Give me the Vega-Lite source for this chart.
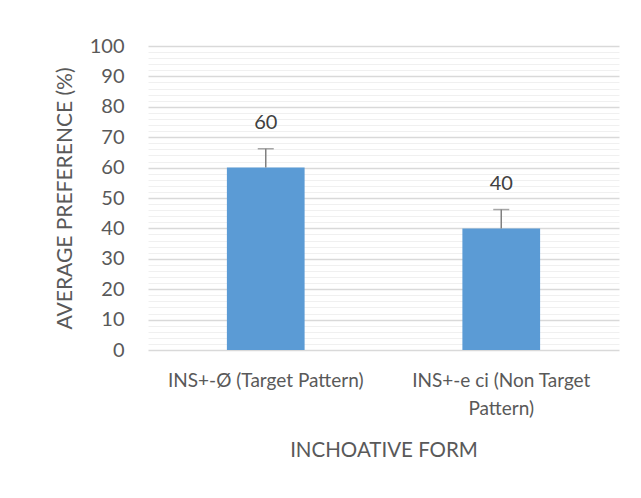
{
  "$schema": "https://vega.github.io/schema/vega-lite/v6.json",
  "width": 471,
  "height": 304,
  "autosize": {"type": "none"},
  "padding": {"left": 148, "top": 46, "right": 22, "bottom": 148},
  "background": "white",
  "config": {
    "view": {"stroke": null},
    "font": "Lato",
    "axis": {"titleFontWeight": "normal", "titleColor": "#595959", "labelColor": "#595959", "titleFontSize": 20.5, "labelFontSize": 19, "domain": false, "ticks": false}
  },
  "data": {
    "values": [
      {"form": "INS+-Ø (Target Pattern)", "pref": 60, "upper": 66.2},
      {"form": "INS+-e ci (Non Target Pattern)", "pref": 40, "upper": 46.2}
    ]
  },
  "encoding": {
    "x": {
      "field": "form",
      "type": "nominal",
      "sort": null,
      "scale": {"paddingInner": 0.67, "paddingOuter": 0.335},
      "axis": {
        "title": "INCHOATIVE FORM",
        "labelAngle": 0,
        "labelPadding": 21,
        "labelLineHeight": 28,
        "labelLimit": 400,
        "titlePadding": 22,
        "grid": false,
        "labelExpr": "datum.label == 'INS+-e ci (Non Target Pattern)' ? ['INS+-e ci (Non Target', 'Pattern)'] : datum.label"
      }
    }
  },
  "layer": [
    {
      "mark": {"type": "bar", "color": "#5b9bd5"},
      "encoding": {
        "y": {
          "field": "pref",
          "type": "quantitative",
          "scale": {"domain": [0, 100], "nice": false},
          "axis": {
            "title": "AVERAGE PREFERENCE (%)",
            "values": [0,2,4,6,8,10,12,14,16,18,20,22,24,26,28,30,32,34,36,38,40,42,44,46,48,50,52,54,56,58,60,62,64,66,68,70,72,74,76,78,80,82,84,86,88,90,92,94,96,98,100],
            "labelExpr": "datum.value % 10 === 0 ? datum.label : ''",
            "labelOverlap": false,
            "labelFontSize": 20,
            "labelPadding": 24,
            "titleFontSize": 21,
            "titlePadding": 14,
            "grid": true,
            "gridColor": {"condition": {"test": "datum.value % 10 === 0", "value": "#d9d9d9"}, "value": "#f0f0f0"},
            "gridWidth": {"condition": {"test": "datum.value % 10 === 0", "value": 1.5}, "value": 1}
          }
        }
      }
    },
    {
      "mark": {"type": "rule", "color": "#808080", "strokeWidth": 1.5},
      "encoding": {
        "y": {
          "field": "pref",
          "type": "quantitative",
          "axis": {
            "title": "AVERAGE PREFERENCE (%)",
            "values": [0,2,4,6,8,10,12,14,16,18,20,22,24,26,28,30,32,34,36,38,40,42,44,46,48,50,52,54,56,58,60,62,64,66,68,70,72,74,76,78,80,82,84,86,88,90,92,94,96,98,100],
            "labelExpr": "datum.value % 10 === 0 ? datum.label : ''",
            "labelOverlap": false,
            "labelFontSize": 20,
            "labelPadding": 24,
            "titleFontSize": 21,
            "titlePadding": 14,
            "grid": true,
            "gridColor": {"condition": {"test": "datum.value % 10 === 0", "value": "#d9d9d9"}, "value": "#f0f0f0"},
            "gridWidth": {"condition": {"test": "datum.value % 10 === 0", "value": 1.5}, "value": 1}
          }
        },
        "y2": {"field": "upper"}
      }
    },
    {
      "mark": {"type": "tick", "color": "#808080", "thickness": 1.5, "size": 16},
      "encoding": {
        "y": {
          "field": "upper",
          "type": "quantitative",
          "axis": {
            "title": "AVERAGE PREFERENCE (%)",
            "values": [0,2,4,6,8,10,12,14,16,18,20,22,24,26,28,30,32,34,36,38,40,42,44,46,48,50,52,54,56,58,60,62,64,66,68,70,72,74,76,78,80,82,84,86,88,90,92,94,96,98,100],
            "labelExpr": "datum.value % 10 === 0 ? datum.label : ''",
            "labelOverlap": false,
            "labelFontSize": 20,
            "labelPadding": 24,
            "titleFontSize": 21,
            "titlePadding": 14,
            "grid": true,
            "gridColor": {"condition": {"test": "datum.value % 10 === 0", "value": "#d9d9d9"}, "value": "#f0f0f0"},
            "gridWidth": {"condition": {"test": "datum.value % 10 === 0", "value": 1.5}, "value": 1}
          }
        }
      }
    },
    {
      "mark": {"type": "text", "fontSize": 20, "color": "#404040", "baseline": "bottom", "dy": -16},
      "encoding": {
        "y": {
          "field": "upper",
          "type": "quantitative",
          "axis": {
            "title": "AVERAGE PREFERENCE (%)",
            "values": [0,2,4,6,8,10,12,14,16,18,20,22,24,26,28,30,32,34,36,38,40,42,44,46,48,50,52,54,56,58,60,62,64,66,68,70,72,74,76,78,80,82,84,86,88,90,92,94,96,98,100],
            "labelExpr": "datum.value % 10 === 0 ? datum.label : ''",
            "labelOverlap": false,
            "labelFontSize": 20,
            "labelPadding": 24,
            "titleFontSize": 21,
            "titlePadding": 14,
            "grid": true,
            "gridColor": {"condition": {"test": "datum.value % 10 === 0", "value": "#d9d9d9"}, "value": "#f0f0f0"},
            "gridWidth": {"condition": {"test": "datum.value % 10 === 0", "value": 1.5}, "value": 1}
          }
        },
        "text": {"field": "pref", "type": "quantitative"}
      }
    }
  ]
}
